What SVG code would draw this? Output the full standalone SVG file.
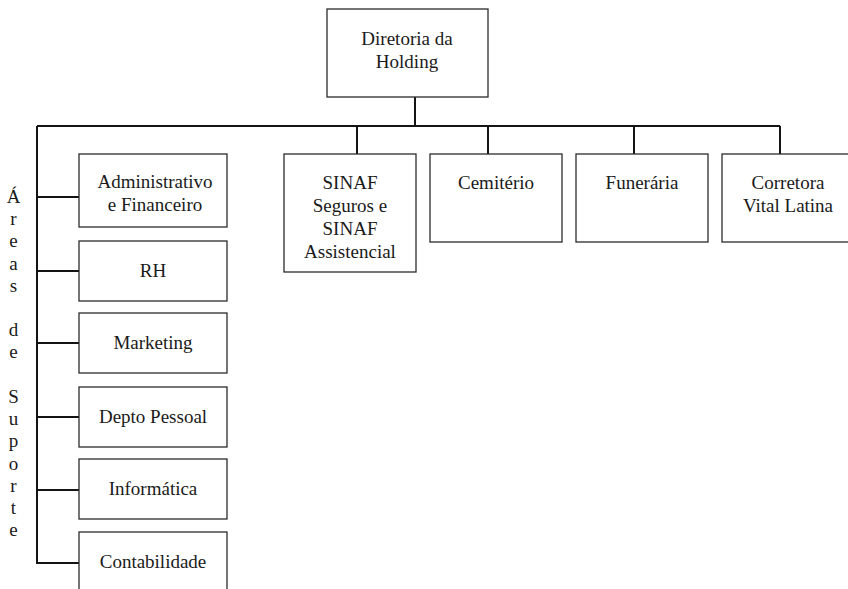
<svg xmlns="http://www.w3.org/2000/svg" width="848" height="589" viewBox="0 0 848 589">
<style>
.box{fill:#fff;stroke:#2b2b2b;stroke-width:1.3}
.t{font-family:"Liberation Serif","Times New Roman",serif;font-size:19px;fill:#1a1a1a;text-anchor:middle}
.c{fill:none;stroke:#141414;stroke-width:2}
</style>
<rect width="848" height="589" fill="#fff"/>
<g id="connectors">
<path class="c" d="M415 97V126M37 126H780M357 126V154M488 126V154M634 126V154M780 126V154M37 126V563H79M37 197H79M37 271H79M37 343H79M37 417H79M37 490H79"/>
</g>
<g id="holding"><rect class="box" x="327" y="9" width="161" height="88"/><text class="t" x="407" y="45">Diretoria da</text><text class="t" x="407" y="68">Holding</text></g>
<g id="sinaf"><rect class="box" x="284" y="154" width="132" height="118"/><text class="t" x="350" y="189">SINAF</text><text class="t" x="350" y="212">Seguros e</text><text class="t" x="350" y="235">SINAF</text><text class="t" x="350" y="258">Assistencial</text></g>
<g id="cemiterio"><rect class="box" x="430" y="154" width="132" height="88"/><text class="t" x="496" y="189">Cemitério</text></g>
<g id="funeraria"><rect class="box" x="576" y="154" width="132" height="88"/><text class="t" x="642" y="189">Funerária</text></g>
<g id="corretora"><rect class="box" x="722" y="154" width="132" height="88"/><text class="t" x="788" y="189">Corretora</text><text class="t" x="788" y="212">Vital Latina</text></g>
<g id="adm"><rect class="box" x="79" y="154" width="148" height="73"/><text class="t" x="155" y="188">Administrativo</text><text class="t" x="155" y="211">e Financeiro</text></g>
<g id="rh"><rect class="box" x="79" y="241" width="148" height="60"/><text class="t" x="153" y="277">RH</text></g>
<g id="marketing"><rect class="box" x="79" y="313" width="148" height="60"/><text class="t" x="153" y="349">Marketing</text></g>
<g id="depto"><rect class="box" x="79" y="387" width="148" height="60"/><text class="t" x="153" y="423">Depto Pessoal</text></g>
<g id="informatica"><rect class="box" x="79" y="459" width="148" height="60"/><text class="t" x="153" y="495">Informática</text></g>
<g id="contabilidade"><rect class="box" x="79" y="532" width="148" height="70"/><text class="t" x="153" y="568">Contabilidade</text></g>
<g id="label">
<text class="t" x="13.5" y="203">Á</text><text class="t" x="13.5" y="225">r</text><text class="t" x="13.5" y="247">e</text><text class="t" x="13.5" y="270">a</text><text class="t" x="13.5" y="292">s</text>
<text class="t" x="13.5" y="336">d</text><text class="t" x="13.5" y="358">e</text>
<text class="t" x="13.5" y="403">S</text><text class="t" x="13.5" y="425">u</text><text class="t" x="13.5" y="447">p</text><text class="t" x="13.5" y="470">o</text><text class="t" x="13.5" y="492">r</text><text class="t" x="13.5" y="514">t</text><text class="t" x="13.5" y="536">e</text>
</g>
</svg>
